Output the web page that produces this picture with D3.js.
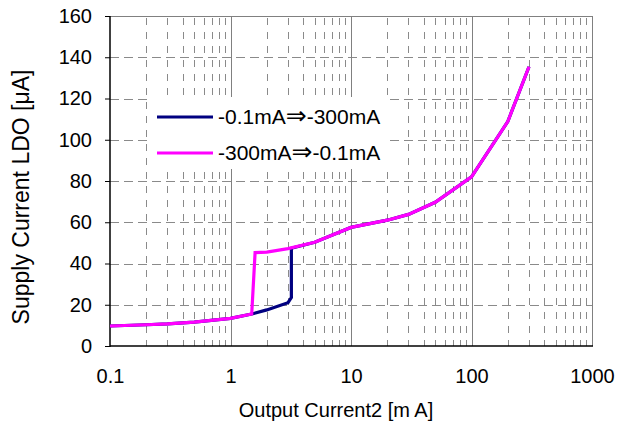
<!DOCTYPE html>
<html>
<head>
<meta charset="utf-8">
<script src="https://cdn.jsdelivr.net/npm/d3@7"></script>
<style>
  html, body { margin: 0; padding: 0; background: #fff; }
  svg { display: block; }
  text { font-family: "Liberation Sans", Arial, sans-serif; fill: #000; }
</style>
</head>
<body>
<svg id="chart" width="618" height="429"></svg>
<script>
// ---- data ----
const upCurrent   = [0.1, 0.2, 0.3, 0.5, 1, 1.5, 2, 3, 3.2, 3.2, 5, 10, 20, 30, 50, 100, 200, 300];
const upSupply    = [9.7, 10.3, 10.7, 11.6, 13.4, 15.5, 17.5, 21.0, 23.5, 47.4, 50.3, 57.5, 61.0, 63.8, 69.7, 82.0, 108.8, 135.4];
const downCurrent = [0.1, 0.2, 0.3, 0.5, 1, 1.5, 1.6, 2, 3, 5, 10, 20, 30, 50, 100, 200, 300];
const downSupply  = [9.7, 10.3, 10.7, 11.6, 13.4, 15.5, 45.3, 45.5, 47.2, 50.3, 57.5, 61.0, 63.8, 69.7, 82.0, 108.8, 135.4];
const seriesFrom = ["-0.1mA", "-300mA"];
const seriesTo   = ["-300mA", "-0.1mA"];
const seriesColors = ["#000080", "#FF00FF"];
const xTickValues = [0.1, 1, 10, 100, 1000];
const xTickLabels = ["0.1", "1", "10", "100", "1000"];
const yTickValues = [0, 20, 40, 60, 80, 100, 120, 140, 160];
const xTitle = "Output Current2 [m A]";
const yTitle = "Supply Current LDO [\u03BCA]";

// ---- layout ----
const svg = d3.select("#chart");
const L = 110, R = 592, T = 16, B = 346;
const x = d3.scaleLog().domain([0.1, 1000]).range([L, R]);
const y = d3.scaleLinear().domain([0, 160]).range([B, T]);

const grid = svg.append("g");
// minor vertical dashed gridlines
const minors = [];
[0.1, 1, 10, 100].forEach(d => { for (let k = 2; k <= 9; k++) minors.push(d * k); });
grid.selectAll("line.vmin").data(minors).join("line")
  .attr("x1", d => Math.round(x(d)) + 0.5).attr("x2", d => Math.round(x(d)) + 0.5)
  .attr("y1", T + 2).attr("y2", B)
  .attr("stroke", "#8a8a8a").attr("stroke-width", 1).attr("stroke-dasharray", "7,7");
// horizontal dashed gridlines
grid.selectAll("line.h").data(yTickValues.filter(v => v > 0 && v < 160)).join("line")
  .attr("x1", L).attr("x2", R)
  .attr("y1", d => Math.round(y(d)) + 0.5).attr("y2", d => Math.round(y(d)) + 0.5)
  .attr("stroke", "#8a8a8a").attr("stroke-width", 1).attr("stroke-dasharray", "9,5");
// major vertical solid lines
grid.selectAll("line.vmaj").data([1, 10, 100, 1000]).join("line")
  .attr("x1", d => Math.round(x(d)) + 0.5).attr("x2", d => Math.round(x(d)) + 0.5)
  .attr("y1", T).attr("y2", B)
  .attr("stroke", "#808080").attr("stroke-width", 1);
// top border
grid.append("line").attr("x1", L).attr("x2", R).attr("y1", T + 0.5).attr("y2", T + 0.5)
  .attr("stroke", "#808080").attr("stroke-width", 1);

// legend box (white background covering grid)
svg.append("rect").attr("x", 147).attr("y", 97).attr("width", 241).attr("height", 72).attr("fill", "#fff");

// axes
const yAxis = d3.axisLeft(y).tickValues(yTickValues).tickSize(5).tickPadding(13).tickFormat(d3.format("d"));
const gy = svg.append("g").attr("transform", `translate(${L},0)`).call(yAxis);
gy.select(".domain").remove();
gy.selectAll("line").attr("stroke", "#000");
gy.selectAll("text").attr("font-size", 20).attr("font-family", "Liberation Sans, Arial, sans-serif");

const xAxis = d3.axisBottom(x).tickValues(xTickValues).tickSize(0).tickPadding(23)
  .tickFormat((d, i) => xTickLabels[i]);
const gx = svg.append("g").attr("transform", `translate(0,${B})`).call(xAxis);
gx.select(".domain").remove();
gx.selectAll("text").attr("font-size", 20).attr("font-family", "Liberation Sans, Arial, sans-serif");

svg.append("line").attr("x1", L).attr("x2", L).attr("y1", T).attr("y2", B + 1)
  .attr("stroke", "#000").attr("stroke-width", 1.5);
svg.append("line").attr("x1", L).attr("x2", R + 1).attr("y1", B).attr("y2", B)
  .attr("stroke", "#000").attr("stroke-width", 1.5);

// series
const line = d3.line().x(d => x(d[0])).y(d => y(d[1]));
const upData = upCurrent.map((c, i) => [c, upSupply[i]]);
const downData = downCurrent.map((c, i) => [c, downSupply[i]]);
svg.append("path").datum(upData).attr("d", line)
  .attr("fill", "none").attr("stroke", seriesColors[0]).attr("stroke-width", 3.2);
svg.append("path").datum(downData).attr("d", line)
  .attr("fill", "none").attr("stroke", seriesColors[1]).attr("stroke-width", 3.2);

// legend
const legY = [117, 153];
seriesFrom.forEach((from, i) => {
  svg.append("line").attr("x1", 157).attr("x2", 213).attr("y1", legY[i]).attr("y2", legY[i])
    .attr("stroke", seriesColors[i]).attr("stroke-width", 3.2);
  const t = svg.append("text").attr("x", 218).attr("y", legY[i] + 7).attr("font-size", 21);
  t.append("tspan").text(from);
  t.append("tspan").attr("font-size", 25).attr("font-family", "DejaVu Sans").attr("dy", 0).text("\u21D2");
  t.append("tspan").text(seriesTo[i]);
});

// titles
svg.append("text").attr("x", 336).attr("y", 417).attr("text-anchor", "middle")
  .attr("font-size", 20).text(xTitle);
svg.append("text").attr("transform", "translate(29,197) rotate(-90)").attr("text-anchor", "middle")
  .attr("font-size", 23).text(yTitle);
</script>
</body>
</html>
